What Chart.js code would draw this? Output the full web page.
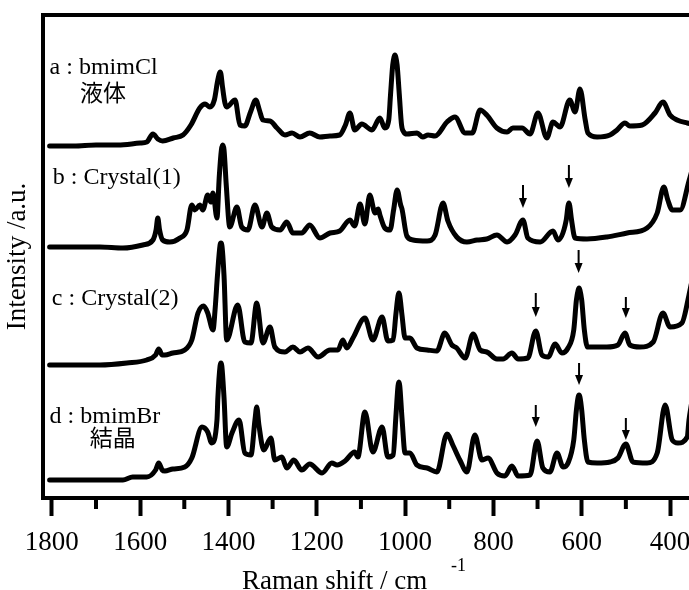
<!DOCTYPE html>
<html>
<head>
<meta charset="utf-8">
<script src="https://cdn.jsdelivr.net/npm/chart.js@4.4.1/dist/chart.umd.min.js"></script>
<style>
  html, body { margin: 0; padding: 0; background: #fff; overflow: hidden; }
</style>
</head>
<body>
<canvas id="raman" width="689" height="590"></canvas>
<script>
// raman spectra, 4 traces stacked (a.u. already offset per trace)
const shiftA = [1805,1750,1700,1650,1600,1585,1571,1560,1549,1525,1503,1485,1465,1453,1442,1432,1425,1421,1419,1417,1414,1408,1404,1385,1374,1363,1350,1338,1330,1322,1306,1290,1272,1256,1238,1216,1193,1170,1148,1135,1125,1114,1098,1075,1057,1046,1037,1033,1028,1025,1023,1021,1018,1013,1008,1003,996,973,960,948,932,905,887,864,848,830,815,792,769,756,735,717,699,679,665,649,627,615,604,592,586,565,536,520,502,491,463,434,416,400,384,361,350];
const intA = [352,352,353,353,355,356,364,359,357,360,363,373,390,394,391,398,416,424,426,424,413,395,391,398,373,372,386,398,388,378,377,370,363,365,361,365,361,362,363,373,385,368,374,368,380,370,378,403,433,441,443,441,433,403,373,366,364,365,361,363,362,376,381,365,365,388,383,370,366,370,370,364,385,360,376,371,398,386,409,378,365,361,363,368,375,372,373,385,396,383,378,375,374];

const shiftB = [1805,1691,1639,1594,1571,1564,1560,1556,1549,1533,1510,1494,1483,1476,1465,1458,1447,1440,1435,1426,1421,1416,1413,1410,1405,1397,1381,1370,1356,1340,1324,1313,1302,1283,1268,1254,1234,1216,1193,1170,1148,1125,1114,1102,1091,1080,1068,1061,1057,1046,1034,1026,1018,1010,1007,996,982,950,932,914,903,883,860,837,815,792,769,751,733,722,694,665,654,635,631,629,627,623,615,588,543,497,452,429,414,405,395,377,357,350];
const intB = [251,251,250,253,258,268,280,268,258,256,260,268,293,288,293,288,303,296,305,280,320,348,353,348,313,271,291,271,268,293,271,285,271,268,276,265,265,273,260,265,267,278,272,294,274,303,285,289,283,270,268,288,308,293,289,262,258,257,263,295,277,261,256,258,259,263,256,263,278,260,256,267,258,278,292,295,292,278,260,259,261,265,270,285,311,298,288,288,317,328];

const shiftC = [1805,1691,1630,1585,1565,1558,1550,1544,1526,1499,1483,1469,1456,1447,1435,1430,1425,1419,1417,1415,1410,1404,1379,1363,1349,1336,1322,1306,1295,1272,1254,1238,1220,1197,1170,1152,1141,1132,1118,1091,1073,1052,1039,1027,1021,1016,1014,1012,1007,1000,989,973,950,928,910,894,883,864,846,830,815,792,778,758,744,722,704,690,676,660,645,631,618,612,608,606,604,600,594,587,574,543,518,502,491,468,438,416,400,373,357,350];
const intC = [133,133,135,138,143,149,143,143,145,148,158,185,192,185,168,190,222,253,255,253,222,158,193,156,155,195,155,171,151,146,151,146,150,141,148,148,158,150,160,180,158,181,157,158,183,202,205,202,183,160,160,150,148,147,165,153,150,140,164,148,146,139,139,145,139,140,167,143,141,154,145,150,168,198,208,210,208,198,168,151,151,151,153,165,153,151,156,185,171,175,203,218];

const shiftD = [1805,1691,1639,1617,1585,1565,1558,1550,1544,1526,1499,1483,1460,1447,1438,1426,1424,1419,1417,1415,1410,1404,1392,1376,1363,1349,1340,1336,1331,1320,1304,1295,1279,1268,1252,1234,1216,1188,1166,1154,1136,1114,1107,1091,1073,1052,1039,1027,1021,1016,1014,1012,1007,1000,989,973,950,928,905,892,876,860,842,826,812,792,774,758,744,717,701,688,672,656,642,631,618,612,608,606,604,600,594,586,565,536,518,500,484,452,429,411,395,382,361,357,350];
const intD = [18,18,18,21,21,28,35,28,27,29,31,40,71,66,55,78,100,132,135,132,100,51,65,78,45,43,78,91,73,48,60,38,41,30,38,28,34,25,35,33,37,46,41,86,46,71,41,43,80,112,116,112,80,45,45,33,30,26,64,53,38,26,63,38,40,25,22,32,22,23,57,30,26,45,31,35,58,88,101,103,101,88,58,36,35,36,40,54,36,35,45,93,58,55,61,78,98];

// x ticks every 100, labels every 200
const tickValues = [1800,1700,1600,1500,1400,1300,1200,1100,1000,900,800,700,600,500,400];

// arrows marking new bands (shift, top of shaft, tip)
const arrowShift = [733, 629, 704, 607, 500, 704, 606, 500];
const arrowTop   = [313, 333, 205, 248, 201,  93, 135,  80];
const arrowTip   = [290, 310, 181, 225, 180,  71, 113,  58];

// trace captions
const labelText  = ["a : bmimCl", "液体", "b : Crystal(1)", "c : Crystal(2)", "d : bmimBr", "結晶"];
const labelShift = [1805, 1736, 1798, 1800, 1805, 1714];
const labelLevel = [430, 406, 320, 199, 81, 61];

const SERIF = '"Liberation Serif", "Times New Roman", serif';

function trace(xs, ys) {
  return { data: xs.map((v, i) => ({ x: v, y: ys[i] })) };
}

const decor = {
  id: 'decor',
  afterDraw(chart) {
    const { ctx, chartArea: area, scales: { x, y } } = chart;
    ctx.save();
    ctx.strokeStyle = '#000';
    ctx.fillStyle = '#000';

    // top frame
    ctx.lineWidth = 4;
    ctx.beginPath();
    ctx.moveTo(area.left - 2, area.top);
    ctx.lineTo(area.right, area.top);
    ctx.stroke();

    // minor ticks (shorter)
    tickValues.filter(v => v % 200 !== 0).forEach(v => {
      const px = x.getPixelForValue(v);
      ctx.beginPath();
      ctx.moveTo(px, area.bottom);
      ctx.lineTo(px, area.bottom + 11);
      ctx.stroke();
    });

    // arrows
    arrowShift.forEach((s, i) => {
      const px = x.getPixelForValue(s);
      const top = y.getPixelForValue(arrowTop[i]);
      const tip = y.getPixelForValue(arrowTip[i]);
      ctx.lineWidth = 2;
      ctx.beginPath();
      ctx.moveTo(px, top);
      ctx.lineTo(px, tip - 8);
      ctx.stroke();
      ctx.beginPath();
      ctx.moveTo(px - 4, tip - 10);
      ctx.lineTo(px + 4, tip - 10);
      ctx.lineTo(px, tip);
      ctx.closePath();
      ctx.fill();
    });

    // captions
    ctx.textAlign = 'left';
    ctx.textBaseline = 'middle';
    labelText.forEach((t, i) => {
      ctx.font = /[\u3000-\u9fff]/.test(t) ? '23px "Noto Sans CJK JP"' : '24px ' + SERIF;
      ctx.fillText(t, x.getPixelForValue(labelShift[i]), y.getPixelForValue(labelLevel[i]));
    });

    // x axis title with superscript
    ctx.textBaseline = 'alphabetic';
    ctx.font = '27px ' + SERIF;
    ctx.fillText('Raman shift / cm', 242, 589);
    ctx.font = '18px ' + SERIF;
    ctx.fillText('-1', 451, 571);
    ctx.restore();
  }
};

new Chart(document.getElementById('raman'), {
  type: 'line',
  data: {
    datasets: [trace(shiftA, intA), trace(shiftB, intB), trace(shiftC, intC), trace(shiftD, intD)]
  },
  options: {
    responsive: false,
    animation: false,
    layout: { padding: { top: 15, right: 0, bottom: 0, left: 0 } },
    plugins: { legend: { display: false }, tooltip: { enabled: false } },
    elements: {
      point: { radius: 0 },
      line: {
        borderWidth: 5, borderColor: '#000', fill: false,
        cubicInterpolationMode: 'monotone', borderJoinStyle: 'round', borderCapStyle: 'round'
      }
    },
    scales: {
      x: {
        type: 'linear', reverse: true, min: 357, max: 1820,
        afterBuildTicks: s => { s.ticks = tickValues.map(v => ({ value: v })); },
        afterFit: s => { s.height = 92; s.paddingLeft = 0; s.paddingRight = 0; },
        ticks: {
          autoSkip: false, maxRotation: 0, padding: 11, color: '#000',
          font: { family: SERIF, size: 27 },
          callback: v => (v % 200 === 0 ? String(v) : '')
        },
        grid: {
          drawOnChartArea: false, drawTicks: true, tickLength: 18, tickWidth: 4,
          tickColor: c => (c.tick && c.tick.value % 200 === 0 ? '#000' : 'rgba(0,0,0,0)')
        },
        border: { display: true, color: '#000', width: 4 }
      },
      y: {
        min: 0, max: 483,
        ticks: { display: false },
        grid: { display: false },
        border: { display: true, color: '#000', width: 4 },
        title: {
          display: true, text: 'Intensity /a.u.', color: '#000',
          font: { family: SERIF, size: 27 }, padding: { top: 2, bottom: 0 }
        },
        afterFit: s => { s.width = 43; }
      }
    }
  },
  plugins: [decor]
});
</script>
</body>
</html>
